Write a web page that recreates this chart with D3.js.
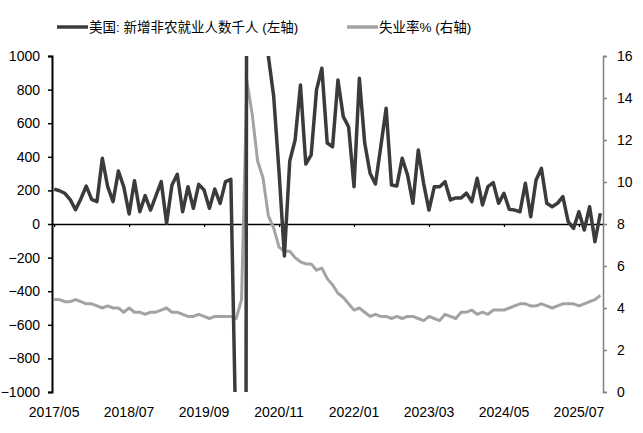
<!DOCTYPE html>
<html>
<head>
<meta charset="utf-8">
<script src="https://cdn.jsdelivr.net/npm/d3@7"></script>
<style>
	body { margin: 0; background: #fff; }
	text { font-family: "Liberation Sans", Arial, "Noto Sans CJK SC", sans-serif; }
</style>
</head>
<body>
<div id="content"></div>
<script>

// monthly nonfarm payroll change, thousands (2017/05 .. 2025/11)
var payrolls = [
	208, 198, 183, 145, 85, 150, 226, 147, 133, 391, 222, 133,
	315, 222, 60, 258, 73, 169, 83, 168, 252, 4, 232, 296,
	73, 222, 93, 236, 202, 93, 208, 123, 252, 266, -1373, -20477,
	2725, 4505, 1726, 1487, 1000, 760, 310, -190, 375, 500, 827, 357,
	411, 798, 927, 482, 460, 857, 639, 577, 222, 867, 482, 302,
	238, 460, 689, 232, 226, 391, 292, 123, 440, 242, 83, 222,
	222, 252, 143, 155, 155, 184, 133, 272, 113, 222, 246, 123,
	183, 87, 83, 73, 242, 43, 262, 331, 123, 103, 123, 163,
	14, -26, 73, -36, 103, -105, 64
];

// unemployment rate, % (right axis)
var unemployment = [
	4.4, 4.4, 4.3, 4.3, 4.4, 4.3, 4.2, 4.2, 4.1,
	4.0, 4.1, 4.0, 4.0, 3.8, 4.0, 3.8, 3.8, 3.7, 3.8, 3.8, 3.9,
	4.0, 3.8, 3.8, 3.7, 3.6, 3.6, 3.7, 3.6, 3.5, 3.6, 3.6, 3.6,
	3.6, 3.5, 4.4, 14.8, 13.2, 11.0, 10.2, 8.4, 7.8, 6.9, 6.7, 6.7,
	6.4, 6.2, 6.1, 6.1, 5.8, 5.9, 5.4, 5.1, 4.7, 4.5, 4.2, 3.9,
	4.0, 3.8, 3.6, 3.7, 3.6, 3.6, 3.5, 3.6, 3.5, 3.6, 3.6, 3.5,
	3.4, 3.6, 3.5, 3.4, 3.7, 3.6, 3.5, 3.8, 3.8, 3.9, 3.7, 3.8,
	3.7, 3.9, 3.9, 3.9, 4.0, 4.1, 4.2, 4.2, 4.1, 4.1, 4.2, 4.1,
	4.0, 4.1, 4.2, 4.2, 4.2, 4.1, 4.2, 4.3, 4.4, 4.6
];

var xTickLabels = ["2017/05", "2018/07", "2019/09", "2020/11", "2022/01", "2023/03", "2024/05", "2025/07"];
var xTickIndex = [0, 14, 28, 42, 56, 70, 84, 98];
var leftTicks = [-1000, -800, -600, -400, -200, 0, 200, 400, 600, 800, 1000];
var rightTicks = [0, 2, 4, 6, 8, 10, 12, 14, 16];
var legendLabels = ["美国: 新增非农就业人数千人 (左轴)", "失业率% (右轴)"];

function main() {
	var width = 643;
	var height = 433;

	var svg = d3.select("#content")
		.append("svg")
		.attr("width", width)
		.attr("height", height);

	var plot = { left: 52, right: 603, top: 56, bottom: 392 };

	var x = d3.scaleLinear()
		.domain([-0.4, 102.5])
		.range([plot.left, plot.right]);

	var yLeft = d3.scaleLinear()
		.domain([-1000, 1000])
		.range([plot.bottom, plot.top]);

	var yRight = d3.scaleLinear()
		.domain([0, 16])
		.range([plot.bottom, plot.top]);

	// clip the lines to the plot box (covid months run off the axis)
	svg.append("clipPath")
		.attr("id", "plotClip")
		.append("rect")
		.attr("x", plot.left)
		.attr("y", plot.top)
		.attr("width", plot.right - plot.left)
		.attr("height", plot.bottom - plot.top);

	// x axis sits on the zero line
	var xAxis = svg.append("g")
		.attr("transform", "translate(0," + yLeft(0) + ")")
		.call(d3.axisBottom(x).tickValues(xTickIndex).tickSize(3).tickSizeOuter(0).tickFormat(""));
	xAxis.select(".domain").attr("stroke", "#000").attr("stroke-width", 1.5);
	xAxis.selectAll(".tick line").attr("stroke", "#000").attr("stroke-width", 1.2);

	// x labels at the bottom
	svg.append("g")
		.selectAll("text")
		.data(xTickLabels)
		.enter()
		.append("text")
		.attr("x", function (d, i) { return x(xTickIndex[i]); })
		.attr("y", 416.5)
		.attr("text-anchor", "middle")
		.attr("font-size", 14)
		.attr("fill", "#000")
		.text(function (d) { return d; });

	// left axis
	var leftAxis = svg.append("g")
		.attr("transform", "translate(" + plot.left + ",0)")
		.call(d3.axisLeft(yLeft).tickValues(leftTicks).tickFormat(d3.format("d"))
			.tickSize(4).tickSizeOuter(4).tickPadding(8));
	leftAxis.select(".domain").attr("stroke", "#000").attr("stroke-width", 2);
	leftAxis.selectAll(".tick line").attr("stroke", "#000").attr("stroke-width", 1.5);
	leftAxis.selectAll("text")
		.attr("font-size", 14)
		.attr("fill", "#000")
		.attr("font-family", "Liberation Sans, Arial, sans-serif");

	// right axis
	var rightAxis = svg.append("g")
		.attr("transform", "translate(" + plot.right + ",0)")
		.call(d3.axisRight(yRight).tickValues(rightTicks).tickFormat(d3.format("d"))
			.tickSize(4).tickSizeOuter(4).tickPadding(10));
	rightAxis.select(".domain").attr("stroke", "#808080").attr("stroke-width", 1.5);
	rightAxis.selectAll(".tick line").attr("stroke", "#808080").attr("stroke-width", 1.5);
	rightAxis.selectAll("text")
		.attr("font-size", 14)
		.attr("fill", "#000")
		.attr("font-family", "Liberation Sans, Arial, sans-serif");

	var lines = svg.append("g").attr("clip-path", "url(#plotClip)");

	// unemployment first so payrolls draw on top
	lines.append("path")
		.datum(unemployment)
		.attr("fill", "none")
		.attr("stroke", "#a3a3a3")
		.attr("stroke-width", 3)
		.attr("stroke-linejoin", "round")
		.attr("d", d3.line()
			.x(function (d, i) { return x(i); })
			.y(function (d) { return yRight(d); }));

	lines.append("path")
		.datum(payrolls)
		.attr("fill", "none")
		.attr("stroke", "#3b3b3b")
		.attr("stroke-width", 3.5)
		.attr("stroke-linejoin", "round")
		.attr("d", d3.line()
			.x(function (d, i) { return x(i); })
			.y(function (d) { return yLeft(d); }));

	// legend
	var legendX = [57, 347];
	var legendColors = ["#3b3b3b", "#a3a3a3"];
	var legend = svg.append("g")
		.selectAll("g")
		.data(legendLabels)
		.enter()
		.append("g")
		.attr("transform", function (d, i) { return "translate(" + legendX[i] + ",27)"; });

	legend.append("line")
		.attr("x1", 0)
		.attr("x2", 31)
		.attr("stroke", function (d, i) { return legendColors[i]; })
		.attr("stroke-width", 3.5);

	legend.append("text")
		.attr("x", 32)
		.attr("y", 5)
		.attr("font-size", 13.5)
		.attr("fill", "#000")
		.text(function (d) { return d; });
}

(() => {
	main();
})()
</script>
</body>
</html>
